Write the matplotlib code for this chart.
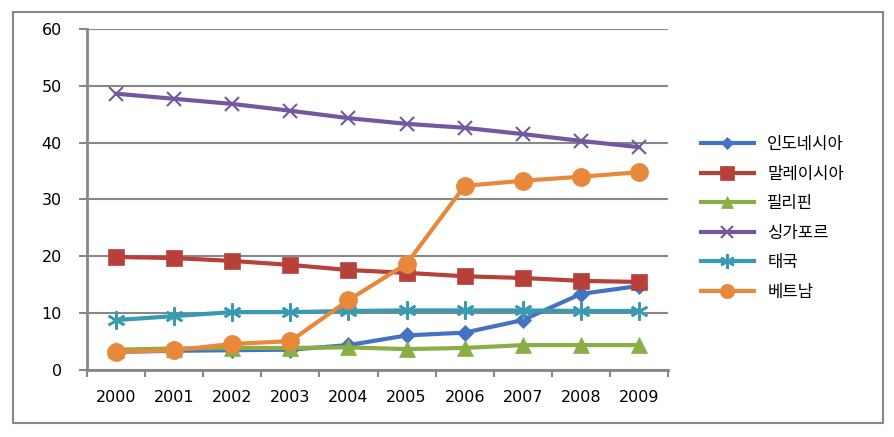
import matplotlib
matplotlib.use("Agg")
import matplotlib.pyplot as plt
from matplotlib.patches import Rectangle

years = ["2000", "2001", "2002", "2003", "2004", "2005", "2006", "2007", "2008", "2009"]
indonesia = [3.2, 3.4, 3.5, 3.6, 4.4, 6.1, 6.6, 8.8, 13.4, 14.8]
malaysia = [19.9, 19.7, 19.2, 18.5, 17.6, 17.1, 16.5, 16.2, 15.7, 15.5]
philippines = [3.6, 3.8, 3.9, 3.9, 4.0, 3.7, 3.9, 4.4, 4.4, 4.4]
singapore = [48.6, 47.7, 46.8, 45.6, 44.3, 43.3, 42.6, 41.5, 40.3, 39.2]
thailand = [8.8, 9.5, 10.2, 10.2, 10.4, 10.5, 10.5, 10.5, 10.4, 10.4]
vietnam = [3.2, 3.5, 4.6, 5.1, 12.3, 18.7, 32.4, 33.3, 34.0, 34.8]
names = ["인도네시아", "말레이시아", "필리핀", "싱가포르", "태국", "베트남"]
yticks = [0, 10, 20, 30, 40, 50, 60]

plt.rcParams['font.family'] = ['DejaVu Sans', 'Noto Sans CJK KR']

fig = plt.figure(figsize=(8.94, 4.37), dpi=100)
ax = fig.add_axes([0.0973, 0.153, 0.65, 0.781])

x = list(range(len(years)))
styles = [
    (indonesia, "#4472C4", "D", 8, 0.5),
    (malaysia, "#B8403A", "s", 12, 0.5),
    (philippines, "#8AAE46", "^", 11, 0.5),
    (singapore, "#7358A0", "x", 10, 1.5),
    (thailand, "#3A9AB0", (6, 2, 0), 13, 1.8),
    (vietnam, "#E8883A", "o", 13, 0.5),
]
for (vals, col, mk, ms, mew), name in zip(styles, names):
    ax.plot(x, vals, color=col, lw=3, marker=mk, ms=ms, mew=mew,
            mec=col, mfc=col, label=name, zorder=3)

ax.set_xlim(-0.5, len(years) - 0.5)
ax.set_ylim(0, 60)
ax.set_yticks(yticks)
ax.set_yticklabels([str(v) for v in yticks], fontsize=11.5)
ax.set_xticks(x)
ax.set_xticklabels(years, fontsize=11.5)
ax.set_xticks([i - 0.5 for i in range(len(years) + 1)], minor=True)
ax.tick_params(axis='x', which='major', length=0, pad=14)
ax.tick_params(axis='x', which='minor', length=5, width=1.5, color="#888888", direction='out')
ax.tick_params(axis='y', length=6, width=1.5, color="#888888", direction='out', pad=12)
ax.grid(axis='y', color="#888888", lw=1.5, zorder=0)
for s in ['top', 'right']:
    ax.spines[s].set_visible(False)
for s in ['left', 'bottom']:
    ax.spines[s].set_color("#888888")
    ax.spines[s].set_linewidth(2)

leg = ax.legend(loc='center left', bbox_to_anchor=(1.03, 0.445), frameon=False,
                prop={'family': ['Noto Sans CJK KR'], 'size': 12},
                handlelength=3.2, labelspacing=0.75, handletextpad=0.8, markerscale=0.8)

fig.patches.append(Rectangle((13 / 894, 1 - 423 / 437), 870 / 894, 411 / 437,
                             transform=fig.transFigure, fill=False,
                             edgecolor="#888888", lw=1.5))
fig.savefig("out.png", dpi=100)
